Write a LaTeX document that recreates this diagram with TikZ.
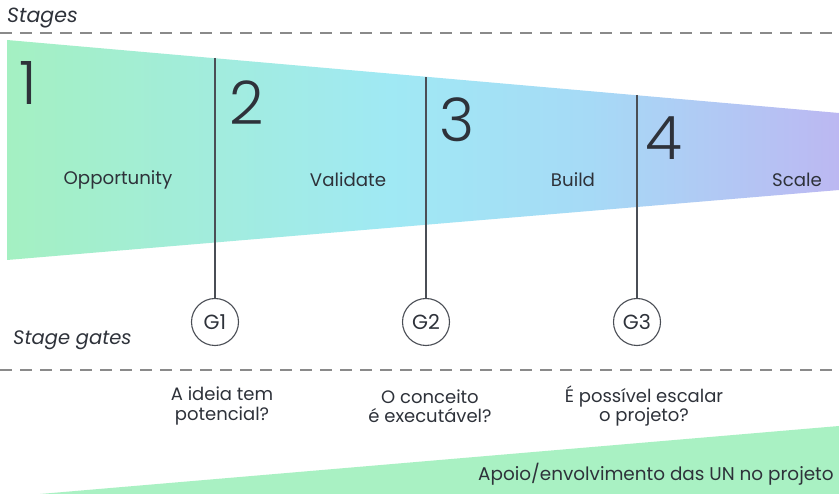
\documentclass[tikz,border=0pt]{standalone}
\usepackage{fontspec}
\setmainfont{Poppins}
\newfontfamily\lightfont{Poppins Light}
\definecolor{txt}{HTML}{2E323A}
\definecolor{dashc}{HTML}{8A8A8A}
\definecolor{linec}{HTML}{4A4E55}
\definecolor{gA}{HTML}{A4F0C2}
\definecolor{gB}{HTML}{A0E9F4}
\definecolor{gD}{HTML}{A6DAF6}
\definecolor{gC}{HTML}{BCB8F2}
\definecolor{band}{HTML}{A9F1C3}
\pgfdeclarehorizontalshading{funnel}{100bp}{color(0bp)=(gA); color(25bp)=(gA); color(48bp)=(gB); color(60bp)=(gD); color(75bp)=(gC); color(100bp)=(gC)}
\tikzset{
  sep/.style={draw=dashc, line width=1.1pt, dash pattern=on 12pt off 8pt},
  heading/.style={font=\fontsize{19.5}{22}\selectfont\itshape, text=txt, anchor=west, inner sep=0},
  bignum/.style={font=\lightfont\fontsize{60}{60}\selectfont, text=txt, anchor=base west, inner sep=0},
  stagelbl/.style={font=\fontsize{18.2}{22}\selectfont, text=txt, inner sep=0},
  gate/.style={circle, draw=linec, line width=1.1pt, fill=white, minimum size=47pt, inner sep=0, font=\fontsize{20.5}{22}\selectfont, text=txt},
  gateline/.style={draw=linec, line width=1.1pt},
  question/.style={font=\fontsize{18}{19.5}\selectfont, text=txt, align=center, inner sep=0},
}
\begin{document}
\begin{tikzpicture}[x=1pt, y=-1pt]
\useasboundingbox (0,0) rectangle (839,494);
\clip (0,0) rectangle (839,494);
\fill[white] (0,0) rectangle (839,494);
% top heading and separator
\node[heading, font=\fontsize{20.5}{22}\selectfont\itshape] (stages) at (7,18) {Stages};
\draw[sep] (0,33) -- (839,33);
% funnel
\shade[shading=funnel] (7,40) -- (839,113) -- (839,190) -- (7,260) -- cycle;
% stage numbers
\node[bignum] (n1) at (19,105) {1};
\node[bignum] (n2) at (229,125) {2};
\node[bignum] (n3) at (439,142) {3};
\node[bignum] (n4) at (645,160) {4};
% stage labels
\node[stagelbl] (s1) at (118,180) {Opportunity};
\node[stagelbl] (s2) at (348,180) {Validate};
\node[stagelbl] (s3) at (573,180) {Build};
\node[stagelbl] (s4) at (797,180) {Scale};
% gates
\coordinate (t1) at (215,58);
\coordinate (t2) at (426,77);
\coordinate (t3) at (637,95);
\node[gate] (g1) at (215,322) {G1};
\node[gate] (g2) at (426,322) {G2};
\node[gate] (g3) at (637,322) {G3};
\draw[gateline] (t1) -- (g1);
\draw[gateline] (t2) -- (g2);
\draw[gateline] (t3) -- (g3);
\node[heading] (gates) at (13,340) {Stage gates};
\draw[sep] (0,370) -- (839,370);
% questions
\node[question] (q1) at (222,406) {A ideia tem\\potencial?};
\node[question] (q2) at (430,406) {O conceito\\é executável?};
\node[question] (q3) at (644,406) {É possível escalar\\o projeto?};
% bottom band
\fill[band] (40,494) -- (839,426) -- (839,494) -- cycle;
\node[font=\fontsize{18.4}{22}\selectfont, text=txt, anchor=west, inner sep=0] (support) at (478,474) {Apoio/envolvimento das UN no projeto};
\end{tikzpicture}
\end{document}
